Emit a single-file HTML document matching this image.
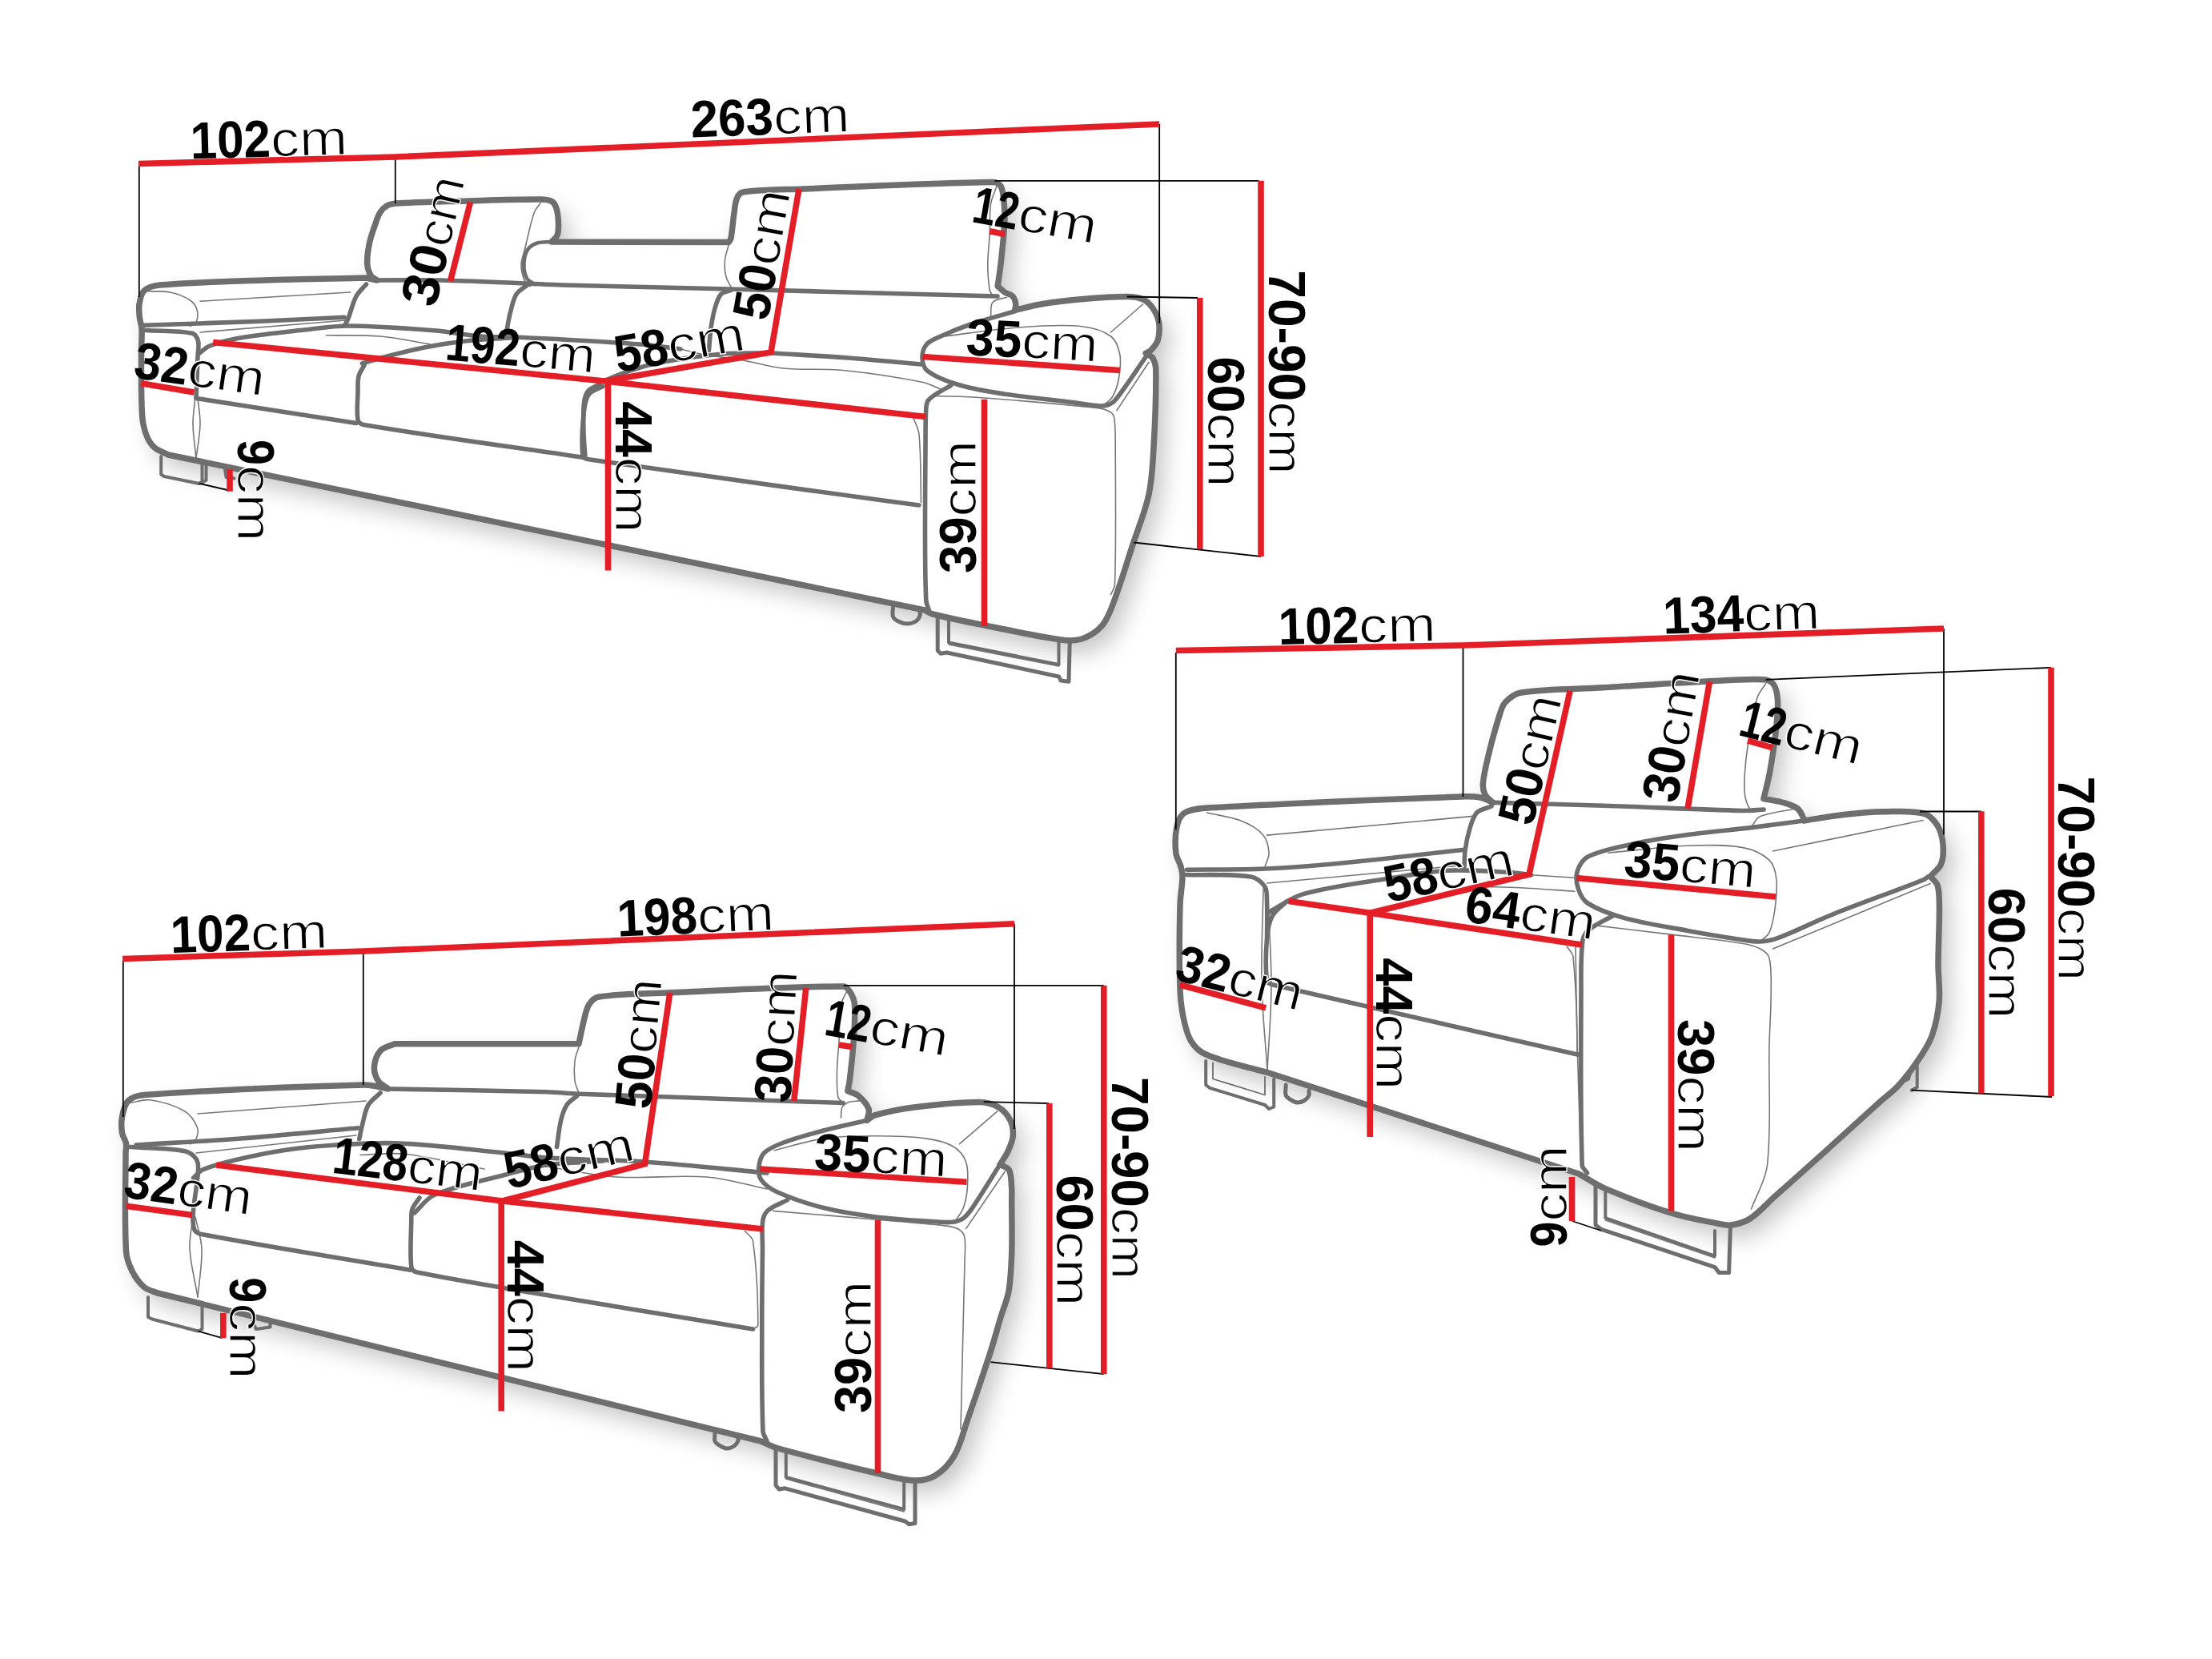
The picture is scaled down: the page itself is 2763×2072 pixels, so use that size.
<!DOCTYPE html><html><head><meta charset="utf-8"><style>html,body{margin:0;padding:0;background:#fff;width:2763px;height:2072px;overflow:hidden}svg{display:block}</style></head><body><svg width="2763" height="2072" viewBox="0 0 2763 2072">
<defs><filter id="sh" x="-10%" y="-10%" width="130%" height="130%"><feGaussianBlur in="SourceAlpha" stdDeviation="15"/><feOffset dx="12" dy="15" result="b"/><feComponentTransfer><feFuncA type="linear" slope="0.24"/></feComponentTransfer><feMerge><feMergeNode/><feMergeNode in="SourceGraphic"/></feMerge></filter></defs>
<rect width="2763" height="2072" fill="#fff"/>
<g filter="url(#sh)" fill="#fff" stroke="none">
<path d="M457.5,347.0 C415.0,348.0 372.5,348.5 330.0,350.0 C286.6,351.5 243.0,352.3 200.0,356.0 C193.0,356.6 184.7,358.7 180.0,363.0 C176.0,366.7 174.9,374.2 174.0,380.0 C173.1,385.7 173.9,391.7 174.5,397.5 C174.9,401.7 176.8,405.8 177.0,410.0 C177.5,419.9 176.5,430.0 176.5,440.0 C176.6,465.8 176.0,491.8 177.5,517.5 C178.0,526.0 179.6,534.6 182.5,542.5 C184.6,548.3 188.0,554.4 192.5,558.5 C197.2,562.9 204.2,564.8 210.0,568.0 L1155.0,762.0 C1158.3,763.7 1161.4,766.1 1165.0,767.0 C1186.4,772.4 1208.3,776.7 1230.0,781.0 C1261.6,787.3 1293.2,794.5 1325.0,799.0 C1333.6,800.2 1343.1,800.6 1351.0,798.0 C1360.1,795.0 1369.6,789.1 1376.0,782.0 C1382.6,774.7 1386.4,764.4 1390.0,755.0 C1399.4,730.4 1406.8,705.0 1415.0,680.0 C1421.8,659.2 1430.5,638.8 1435.0,617.5 C1439.3,597.1 1440.1,575.9 1441.2,555.0 C1443.0,524.2 1444.1,493.2 1443.8,462.5 C1443.7,457.4 1442.5,451.7 1440.0,447.5 C1438.3,444.6 1434.2,443.3 1431.2,441.2 C1433.3,440.0 1435.9,439.3 1437.5,437.5 C1440.9,433.8 1444.9,429.7 1446.2,425.0 C1448.2,418.0 1448.6,409.7 1447.5,402.5 C1446.5,396.4 1443.5,390.1 1440.0,385.0 C1436.9,380.5 1432.4,375.9 1427.5,373.8 C1421.6,371.1 1414.2,370.5 1407.5,370.5 C1388.4,370.5 1369.1,372.1 1350.0,373.8 C1333.3,375.2 1316.5,377.2 1300.0,380.0 C1289.0,381.8 1278.3,385.0 1267.5,387.5 C1267.9,385.0 1269.1,382.4 1268.8,380.0 C1268.3,376.6 1267.2,372.4 1265.0,370.0 C1262.7,367.4 1258.1,367.1 1255.0,365.0 C1251.8,362.9 1249.2,360.0 1246.2,357.5 C1247.5,348.3 1248.9,339.2 1250.0,330.0 C1251.4,317.5 1252.7,305.0 1253.8,292.5 C1254.4,285.0 1255.0,277.5 1255.0,270.0 C1255.0,263.3 1254.6,256.6 1253.8,250.0 C1253.0,244.1 1252.8,237.2 1250.0,232.5 C1248.3,229.7 1244.1,227.4 1240.5,227.5 C1161.7,228.6 1082.2,232.8 1003.0,236.0 C978.0,237.0 952.1,236.6 928.0,240.0 C924.6,240.5 921.8,244.4 920.5,247.5 C918.0,253.5 917.8,260.8 916.8,267.5 C915.3,277.5 914.8,287.7 913.0,297.5 C912.7,299.3 911.3,300.8 910.5,302.5 L689.0,302.0 C691.3,299.3 694.8,297.2 696.0,294.0 C697.6,289.8 697.6,284.7 697.5,280.0 C697.4,274.0 697.0,267.7 695.5,262.0 C694.5,258.4 692.9,253.9 690.0,252.0 C686.1,249.5 680.1,249.0 675.0,249.0 C641.8,248.8 608.3,250.3 575.0,251.2 C550.0,251.9 524.9,252.4 500.0,253.8 C494.9,254.0 489.4,254.2 485.0,256.2 C481.1,258.0 477.4,261.4 475.0,265.0 C472.0,269.4 470.5,274.9 468.8,280.0 C465.9,288.2 462.9,296.5 461.2,305.0 C459.6,313.2 458.2,321.8 458.8,330.0 C459.1,335.1 461.1,340.7 463.8,345.0 C465.2,347.4 468.6,348.3 471.0,350.0 L457.5,347.0 Z"/>
<path d="M485.0,1360.0 C475.0,1358.3 465.1,1354.8 455.0,1355.0 C363.4,1357.3 271.3,1361.3 180.0,1367.5 C172.9,1368.0 164.6,1370.4 160.0,1375.0 C155.4,1379.6 153.8,1388.1 152.5,1395.0 C151.3,1401.4 151.5,1408.5 152.5,1415.0 C153.2,1419.5 156.7,1423.5 157.5,1428.0 C158.2,1431.9 157.0,1436.0 157.0,1440.0 C157.0,1480.8 155.3,1522.0 157.5,1562.5 C158.0,1571.1 161.2,1579.8 165.0,1587.5 C168.7,1594.8 173.9,1602.2 180.0,1607.5 C184.5,1611.4 191.3,1612.5 197.0,1615.0 L950.5,1800.0 C957.2,1802.8 963.5,1806.6 970.5,1808.5 C1011.0,1819.7 1052.0,1829.7 1093.0,1839.5 C1108.5,1843.2 1124.3,1848.3 1140.0,1849.0 C1149.3,1849.4 1160.2,1847.7 1168.0,1843.0 C1177.5,1837.3 1186.3,1827.8 1192.0,1818.0 C1199.9,1804.5 1203.3,1788.1 1208.6,1773.0 C1218.5,1744.6 1228.2,1716.1 1237.5,1687.5 C1242.0,1673.5 1245.8,1659.1 1250.0,1645.0 C1253.3,1634.1 1258.1,1623.6 1260.0,1612.5 C1262.7,1596.1 1263.2,1579.2 1263.8,1562.5 C1264.4,1541.7 1263.7,1520.8 1263.7,1500.0 C1263.7,1494.7 1264.1,1489.3 1263.7,1484.0 C1263.0,1476.3 1263.5,1467.4 1260.4,1461.1 C1258.6,1457.6 1252.8,1456.8 1249.0,1454.6 C1252.3,1449.2 1256.2,1444.1 1258.8,1438.4 C1261.6,1432.2 1264.8,1425.5 1265.3,1418.8 C1265.8,1412.4 1264.8,1405.0 1262.0,1399.3 C1258.9,1393.0 1253.4,1386.5 1247.4,1383.0 C1240.4,1378.9 1231.3,1376.5 1223.0,1376.5 C1196.1,1376.5 1168.6,1379.6 1141.6,1383.0 C1125.2,1385.1 1108.6,1388.4 1092.8,1392.8 C1089.1,1393.8 1086.3,1397.1 1083.0,1399.3 C1083.7,1394.5 1086.4,1389.2 1085.0,1385.0 C1082.9,1379.0 1077.5,1373.1 1072.5,1368.8 C1068.8,1365.6 1063.3,1364.6 1058.8,1362.5 C1059.6,1358.3 1060.7,1354.2 1061.2,1350.0 C1063.2,1333.4 1065.2,1316.7 1066.2,1300.0 C1067.2,1285.0 1068.4,1269.8 1067.5,1255.0 C1067.2,1249.8 1065.1,1244.4 1062.5,1240.0 C1060.5,1236.7 1057.6,1232.0 1053.8,1232.0 C981.1,1232.0 906.6,1236.9 833.0,1240.0 C804.6,1241.2 775.4,1240.8 748.0,1245.0 C742.9,1245.8 738.2,1250.7 735.5,1255.0 C732.0,1260.7 731.0,1268.2 729.2,1275.0 C726.8,1284.5 725.1,1294.2 723.0,1303.8 L492.5,1303.8 C486.7,1306.7 479.0,1307.9 475.0,1312.5 C470.7,1317.5 467.9,1325.8 467.5,1332.5 C467.1,1338.3 469.4,1345.1 472.5,1350.0 C475.2,1354.3 480.8,1356.7 485.0,1360.0 Z"/>
<path d="M1865.0,1002.5 C1860.0,1000.4 1855.2,997.2 1850.0,996.2 C1841.9,994.7 1833.3,994.7 1825.0,995.0 C1720.8,998.9 1616.5,1002.7 1512.5,1008.8 C1501.5,1009.4 1488.8,1010.1 1480.0,1015.0 C1474.6,1018.0 1471.4,1026.1 1470.0,1032.5 C1467.7,1042.8 1467.7,1054.4 1468.8,1065.0 C1469.4,1071.1 1473.4,1076.6 1475.0,1082.5 C1476.1,1086.6 1477.1,1090.8 1477.0,1095.0 C1476.8,1106.6 1474.3,1118.3 1474.0,1130.0 C1473.2,1163.3 1472.9,1196.7 1473.8,1230.0 C1474.1,1242.5 1475.1,1255.2 1477.5,1267.5 C1479.7,1278.6 1481.9,1290.6 1487.5,1300.0 C1491.9,1307.3 1499.4,1314.2 1507.5,1317.5 C1531.9,1327.5 1559.2,1332.5 1585.0,1340.0 L1972.0,1466.0 C1983.0,1472.1 1993.4,1479.5 2005.0,1484.4 C2031.9,1495.8 2059.6,1506.3 2087.5,1515.0 C2106.2,1520.8 2125.8,1524.1 2145.0,1528.0 C2150.6,1529.1 2156.5,1530.8 2162.0,1530.0 C2170.2,1528.8 2179.1,1526.5 2186.0,1522.0 C2197.0,1514.9 2205.9,1504.2 2215.8,1495.3 C2237.2,1476.2 2258.7,1457.2 2280.0,1438.0 C2301.7,1418.4 2323.3,1398.6 2345.0,1379.0 C2353.9,1370.9 2363.9,1363.9 2372.0,1355.0 C2381.9,1344.1 2390.8,1331.9 2399.0,1319.6 C2404.7,1311.0 2410.5,1301.9 2413.7,1292.2 C2418.2,1278.7 2421.0,1264.2 2422.2,1250.0 C2423.4,1235.1 2421.0,1220.0 2421.0,1205.0 C2421.0,1181.0 2422.6,1157.0 2422.4,1133.0 C2422.3,1123.9 2422.7,1114.2 2420.2,1105.9 C2418.9,1101.4 2414.1,1098.4 2411.1,1094.6 C2415.6,1089.3 2422.3,1085.0 2424.7,1078.8 C2427.6,1071.4 2427.7,1062.0 2426.9,1053.9 C2426.2,1046.2 2424.2,1037.7 2420.2,1031.3 C2416.3,1025.1 2410.1,1017.8 2403.0,1016.0 C2387.7,1012.0 2369.7,1013.5 2353.0,1013.8 C2336.3,1014.0 2319.6,1015.6 2303.0,1017.5 C2286.3,1019.4 2269.7,1022.5 2253.0,1025.0 C2253.0,1024.2 2253.4,1023.2 2253.0,1022.5 C2250.9,1018.2 2249.1,1012.9 2245.5,1010.0 C2240.8,1006.2 2234.1,1004.3 2228.0,1002.5 C2219.9,1000.1 2211.3,999.2 2203.0,997.5 C2205.5,986.7 2208.5,975.9 2210.5,965.0 C2213.5,948.4 2216.1,931.7 2218.0,915.0 C2219.5,901.7 2221.1,888.2 2220.5,875.0 C2220.2,868.2 2219.0,860.2 2215.5,855.0 C2213.1,851.5 2207.6,848.9 2203.0,848.8 C2178.4,847.7 2153.0,850.0 2128.0,851.2 C2086.2,853.3 2044.5,856.2 2002.8,858.8 C1968.5,860.8 1933.3,859.9 1900.0,865.0 C1892.4,866.2 1885.1,872.0 1880.0,877.5 C1875.9,882.0 1874.4,889.0 1872.5,895.0 C1867.8,909.8 1863.7,924.9 1860.0,940.0 C1857.0,952.4 1853.7,965.0 1852.5,977.5 C1852.0,982.5 1852.8,988.2 1855.0,992.5 C1857.0,996.5 1861.7,999.2 1865.0,1002.5 Z"/>
</g>
<g fill="none" stroke="#6e6e6e" stroke-linecap="round" stroke-linejoin="round">
<path d="M656.0,310.0 C654.3,316.7 651.2,323.3 651.0,330.0 C650.8,336.6 652.5,344.0 655.0,350.0 C656.1,352.7 659.7,354.0 662.0,356.0 " stroke-width="1.6" stroke="#777"/>
<path d="M675.0,253.8 C672.5,257.5 669.1,260.8 667.5,265.0 C664.1,273.8 662.1,283.2 660.0,292.5 C657.1,304.9 653.6,317.4 652.5,330.0 C651.9,336.6 652.8,344.0 655.0,350.0 C656.1,353.2 660.0,355.0 662.5,357.5 " stroke-width="1.6" stroke="#777"/>
<path d="M185.0,363.8 C194.2,364.2 203.7,363.1 212.5,365.0 C221.2,366.9 230.3,370.2 237.5,375.0 C241.6,377.7 245.0,382.9 246.2,387.5 C247.5,392.1 246.8,398.3 245.0,402.5 C243.9,405.0 240.0,405.8 237.5,407.5 " stroke-width="1.6" stroke="#777"/>
<path d="M250.0,376.2 L437.5,365.0 " stroke-width="1.6" stroke="#777"/>
<path d="M250.0,415.0 L432.5,400.0 " stroke-width="1.6" stroke="#777"/>
<path d="M407.5,418.8 C430.0,419.2 452.6,418.1 475.0,420.0 C496.0,421.8 516.7,426.7 537.5,430.0 " stroke-width="1.6" stroke="#777"/>
<path d="M910.5,305.0 C908.8,311.7 906.1,318.2 905.5,325.0 C904.9,331.6 905.2,338.6 906.8,345.0 C908.0,350.3 911.6,355.0 914.0,360.0 " stroke-width="1.6" stroke="#777"/>
<path d="M850.0,436.0 C860.0,438.3 869.9,441.2 880.0,443.0 C895.9,445.9 912.1,447.2 928.0,450.0 C944.7,452.9 961.1,458.3 978.0,460.0 C1002.8,462.5 1028.2,460.0 1053.0,462.5 C1086.5,465.8 1120.1,470.9 1153.0,477.5 C1161.8,479.3 1169.7,484.2 1178.0,487.5 " stroke-width="1.6" stroke="#777"/>
<path d="M1245.0,232.5 C1242.5,240.0 1238.6,247.3 1237.5,255.0 C1235.7,267.3 1236.9,280.0 1236.2,292.5 C1235.6,305.0 1233.8,317.5 1233.8,330.0 C1233.8,340.8 1234.5,351.9 1236.2,362.5 C1236.6,364.9 1238.8,366.7 1240.0,368.8 " stroke-width="1.6" stroke="#777"/>
<path d="M1237.5,395.0 C1238.3,389.2 1236.7,381.4 1240.0,377.5 C1243.4,373.4 1251.7,373.3 1257.5,371.2 " stroke-width="1.6" stroke="#777"/>
<path d="M1170.0,421.2 C1205.0,417.1 1239.9,411.4 1275.0,408.8 C1299.9,406.8 1325.4,405.0 1350.0,407.5 C1362.9,408.8 1377.6,412.9 1387.5,420.0 C1393.8,424.5 1397.2,434.5 1398.8,442.5 C1400.6,452.0 1399.1,462.7 1397.5,472.5 C1396.2,480.2 1393.7,488.2 1390.0,495.0 C1387.8,499.0 1383.3,501.7 1380.0,505.0 " stroke-width="1.6" stroke="#777"/>
<path d="M1387.5,415.0 L1427.5,380.0 " stroke-width="1.6" stroke="#777"/>
<path d="M1395.0,512.5 L1435.0,452.5 " stroke-width="1.6" stroke="#777"/>
<path d="M1166.0,494.5 C1186.3,495.2 1206.6,495.2 1226.8,496.7 C1275.1,500.3 1323.4,504.5 1371.5,509.7 C1376.5,510.2 1381.8,511.6 1386.0,514.0 C1388.6,515.5 1391.2,518.3 1391.7,521.3 C1393.6,533.7 1393.2,547.1 1393.2,560.0 C1393.4,616.7 1394.3,673.6 1392.5,730.0 C1392.4,734.5 1389.2,738.3 1387.5,742.5 " stroke-width="1.6" stroke="#777"/>
<path d="M1140.5,521.0 C1143.0,528.2 1147.3,535.0 1148.0,542.5 C1150.6,570.5 1149.7,599.2 1150.5,627.5 " stroke-width="1.6" stroke="#777"/>
<path d="M243.8,497.0 C242.8,508.0 240.8,519.0 241.0,530.0 C241.2,544.2 243.7,558.3 245.0,572.5 " stroke-width="1.6" stroke="#777"/>
<path d="M247.0,497.0 C248.0,508.0 250.3,519.0 250.0,530.0 C249.6,544.2 246.7,558.3 245.0,572.5 " stroke-width="1.6" stroke="#777"/>
<path d="M1185.0,805.0 L1322.5,832.0 " stroke-width="1.6" stroke="#777"/>
<path d="M162.5,1377.5 C170.8,1376.2 179.4,1372.5 187.5,1373.8 C201.9,1375.9 217.6,1380.4 230.0,1387.5 C237.2,1391.6 243.1,1400.1 246.2,1407.5 C248.1,1411.8 246.8,1418.2 245.0,1422.5 C243.9,1425.3 240.0,1426.7 237.5,1428.8 " stroke-width="1.6" stroke="#777"/>
<path d="M247.0,1391.0 L457.0,1375.0 " stroke-width="1.6" stroke="#777"/>
<path d="M245.0,1440.0 L445.0,1418.0 " stroke-width="1.6" stroke="#777"/>
<path d="M450.0,1442.5 C468.3,1442.1 486.9,1439.2 505.0,1441.2 C538.5,1445.0 571.7,1453.8 605.0,1460.0 " stroke-width="1.6" stroke="#777"/>
<path d="M1058.0,1237.5 C1055.5,1243.3 1051.5,1248.8 1050.5,1255.0 C1048.2,1269.6 1048.9,1285.0 1048.0,1300.0 C1047.2,1312.5 1045.7,1325.0 1045.5,1337.5 C1045.3,1348.3 1044.8,1359.7 1046.8,1370.0 C1047.3,1373.1 1050.9,1375.0 1053.0,1377.5 " stroke-width="1.6" stroke="#777"/>
<path d="M723.0,1307.5 C721.3,1313.3 718.7,1319.0 718.0,1325.0 C717.0,1333.2 717.0,1341.8 718.0,1350.0 C718.6,1355.2 721.3,1360.0 723.0,1365.0 " stroke-width="1.6" stroke="#777"/>
<path d="M1050.4,1396.0 C1050.9,1391.7 1050.2,1386.6 1052.0,1383.0 C1053.5,1380.1 1057.1,1377.7 1060.2,1376.5 C1064.1,1375.0 1068.9,1375.4 1073.2,1374.9 " stroke-width="1.6" stroke="#777"/>
<path d="M683.0,1457.0 C712.2,1461.3 741.2,1468.1 770.5,1470.0 C807.8,1472.4 845.8,1467.0 883.0,1470.0 C908.3,1472.0 933.0,1480.0 958.0,1485.0 " stroke-width="1.6" stroke="#777"/>
<path d="M930.5,1537.5 C933.8,1541.7 939.8,1544.8 940.5,1550.0 C945.2,1584.0 946.8,1620.9 946.8,1655.0 C946.8,1657.6 942.6,1658.3 940.5,1660.0 " stroke-width="1.6" stroke="#777"/>
<path d="M967.4,1436.7 C987.5,1431.8 1007.3,1425.0 1027.7,1422.1 C1049.1,1419.0 1071.1,1418.8 1092.8,1418.8 C1114.5,1418.8 1136.5,1419.2 1157.9,1422.1 C1169.0,1423.6 1181.1,1426.2 1190.4,1431.8 C1197.4,1436.0 1204.1,1443.8 1206.7,1451.4 C1210.0,1461.1 1208.9,1473.2 1208.3,1483.9 C1207.8,1492.1 1206.2,1500.6 1203.4,1508.3 C1201.3,1514.2 1196.9,1519.2 1193.7,1524.6 " stroke-width="1.6" stroke="#777"/>
<path d="M1198.6,1428.6 L1245.8,1387.9 " stroke-width="1.6" stroke="#777"/>
<path d="M1206.7,1534.4 L1255.5,1462.8 " stroke-width="1.6" stroke="#777"/>
<path d="M965.8,1512.4 C1008.1,1515.9 1050.5,1519.3 1092.8,1523.0 C1122.6,1525.6 1152.6,1527.5 1182.3,1531.1 C1187.9,1531.8 1194.1,1533.1 1198.6,1536.0 C1201.7,1538.0 1204.4,1542.1 1205.0,1545.8 C1206.5,1555.1 1205.2,1565.3 1205.0,1575.0 C1203.5,1645.0 1201.7,1715.0 1200.0,1785.0 " stroke-width="1.6" stroke="#777"/>
<path d="M241.0,1520.0 C239.7,1533.3 236.2,1546.7 237.0,1560.0 C238.2,1580.1 243.7,1600.0 247.0,1620.0 " stroke-width="1.6" stroke="#777"/>
<path d="M244.0,1520.0 C246.7,1533.3 251.6,1546.5 252.0,1560.0 C252.6,1579.9 248.7,1600.0 247.0,1620.0 " stroke-width="1.6" stroke="#777"/>
<path d="M981.8,1847.0 L1129.2,1888.0 " stroke-width="1.6" stroke="#777"/>
<path d="M2205.5,853.8 C2202.2,859.2 2197.6,864.1 2195.5,870.0 C2191.8,880.3 2190.0,891.6 2188.0,902.5 C2185.0,919.1 2182.2,935.8 2180.5,952.5 C2179.3,964.9 2178.2,977.7 2179.2,990.0 C2179.8,996.9 2182.2,1004.6 2185.5,1010.0 C2186.8,1012.1 2190.5,1011.7 2193.0,1012.5 " stroke-width="1.6" stroke="#777"/>
<path d="M2188.0,1032.5 C2191.3,1028.3 2193.3,1021.9 2198.0,1020.0 C2211.6,1014.4 2228.0,1013.3 2243.0,1010.0 " stroke-width="1.6" stroke="#777"/>
<path d="M1507.5,1015.0 C1521.7,1018.3 1536.6,1019.8 1550.0,1025.0 C1560.0,1028.9 1570.7,1034.8 1577.5,1042.5 C1582.4,1048.1 1584.5,1057.5 1585.0,1065.0 C1585.4,1070.8 1581.7,1076.7 1580.0,1082.5 " stroke-width="1.6" stroke="#777"/>
<path d="M1582.6,1043.1 L1840.3,1019.4 " stroke-width="1.6" stroke="#777"/>
<path d="M1582.6,1103.0 L1831.3,1080.4 " stroke-width="1.6" stroke="#777"/>
<path d="M1912.6,1092.8 L1966.9,1096.2 " stroke-width="1.6" stroke="#777"/>
<path d="M1853.9,1107.5 C1868.9,1107.9 1884.0,1107.9 1899.0,1108.7 C1921.6,1109.8 1944.3,1111.7 1966.9,1113.2 " stroke-width="1.6" stroke="#777"/>
<path d="M1957.5,1182.5 C1960.0,1186.7 1964.5,1190.2 1965.0,1195.0 C1968.7,1234.4 1970.0,1276.0 1970.0,1315.0 C1970.0,1316.8 1966.7,1316.7 1965.0,1317.5 " stroke-width="1.6" stroke="#777"/>
<path d="M1578.0,1110.0 C1577.3,1150.0 1575.1,1190.0 1576.0,1230.0 C1576.8,1265.7 1580.7,1301.3 1583.0,1337.0 " stroke-width="1.6" stroke="#777"/>
<path d="M1583.0,1110.0 C1584.7,1150.0 1588.0,1190.0 1588.0,1230.0 C1588.0,1265.7 1584.7,1301.3 1583.0,1337.0 " stroke-width="1.6" stroke="#777"/>
<path d="M2008.8,1065.2 C2041.9,1062.2 2075.0,1057.5 2108.2,1056.2 C2130.8,1055.3 2154.1,1054.5 2176.0,1058.4 C2188.0,1060.5 2201.5,1066.3 2209.9,1074.2 C2215.8,1079.8 2218.1,1090.5 2219.0,1099.1 C2220.3,1111.6 2218.4,1124.8 2216.7,1137.5 C2215.4,1146.7 2213.8,1156.5 2210.0,1164.7 C2207.8,1169.4 2202.4,1172.2 2198.6,1176.0 " stroke-width="1.6" stroke="#777"/>
<path d="M2214.5,1063.0 L2402.1,1024.5 " stroke-width="1.6" stroke="#777"/>
<path d="M2214.5,1185.0 L2411.1,1103.6 " stroke-width="1.6" stroke="#777"/>
<path d="M1990.7,1155.6 C2022.3,1159.4 2054.0,1163.0 2085.6,1166.9 C2115.7,1170.6 2146.1,1173.4 2176.0,1178.2 C2183.8,1179.4 2191.9,1181.4 2198.6,1185.0 C2203.2,1187.4 2208.7,1191.4 2209.9,1196.3 C2213.2,1209.7 2212.2,1225.4 2212.2,1240.0 C2212.2,1261.7 2210.5,1283.3 2210.0,1305.0 C2208.9,1355.0 2212.9,1405.8 2207.5,1455.0 C2205.4,1474.2 2194.2,1491.7 2187.5,1510.0 " stroke-width="1.6" stroke="#777"/>
<path d="M1968.0,1180.0 C1968.7,1220.0 1969.0,1260.0 1970.0,1300.0 C1971.3,1352.7 1973.3,1405.3 1975.0,1458.0 " stroke-width="1.6" stroke="#777"/>
<path d="M2005.3,1524.0 L2142.0,1571.0 " stroke-width="1.6" stroke="#777"/>
<path d="M457.5,347.0 C415.0,348.0 372.5,348.5 330.0,350.0 C286.6,351.5 243.0,352.3 200.0,356.0 C193.0,356.6 184.7,358.7 180.0,363.0 C176.0,366.7 174.9,374.2 174.0,380.0 C173.1,385.7 173.9,391.7 174.5,397.5 C174.9,401.7 176.8,405.8 177.0,410.0 C177.5,419.9 176.5,430.0 176.5,440.0 C176.6,465.8 176.0,491.8 177.5,517.5 C178.0,526.0 179.6,534.6 182.5,542.5 C184.6,548.3 188.0,554.4 192.5,558.5 C197.2,562.9 204.2,564.8 210.0,568.0 L1155.0,762.0 C1158.3,763.7 1161.4,766.1 1165.0,767.0 C1186.4,772.4 1208.3,776.7 1230.0,781.0 C1261.6,787.3 1293.2,794.5 1325.0,799.0 C1333.6,800.2 1343.1,800.6 1351.0,798.0 C1360.1,795.0 1369.6,789.1 1376.0,782.0 C1382.6,774.7 1386.4,764.4 1390.0,755.0 C1399.4,730.4 1406.8,705.0 1415.0,680.0 C1421.8,659.2 1430.5,638.8 1435.0,617.5 C1439.3,597.1 1440.1,575.9 1441.2,555.0 C1443.0,524.2 1444.1,493.2 1443.8,462.5 C1443.7,457.4 1442.5,451.7 1440.0,447.5 C1438.3,444.6 1434.2,443.3 1431.2,441.2 C1433.3,440.0 1435.9,439.3 1437.5,437.5 C1440.9,433.8 1444.9,429.7 1446.2,425.0 C1448.2,418.0 1448.6,409.7 1447.5,402.5 C1446.5,396.4 1443.5,390.1 1440.0,385.0 C1436.9,380.5 1432.4,375.9 1427.5,373.8 C1421.6,371.1 1414.2,370.5 1407.5,370.5 C1388.4,370.5 1369.1,372.1 1350.0,373.8 C1333.3,375.2 1316.5,377.2 1300.0,380.0 C1289.0,381.8 1278.3,385.0 1267.5,387.5 C1267.9,385.0 1269.1,382.4 1268.8,380.0 C1268.3,376.6 1267.2,372.4 1265.0,370.0 C1262.7,367.4 1258.1,367.1 1255.0,365.0 C1251.8,362.9 1249.2,360.0 1246.2,357.5 C1247.5,348.3 1248.9,339.2 1250.0,330.0 C1251.4,317.5 1252.7,305.0 1253.8,292.5 C1254.4,285.0 1255.0,277.5 1255.0,270.0 C1255.0,263.3 1254.6,256.6 1253.8,250.0 C1253.0,244.1 1252.8,237.2 1250.0,232.5 C1248.3,229.7 1244.1,227.4 1240.5,227.5 C1161.7,228.6 1082.2,232.8 1003.0,236.0 C978.0,237.0 952.1,236.6 928.0,240.0 C924.6,240.5 921.8,244.4 920.5,247.5 C918.0,253.5 917.8,260.8 916.8,267.5 C915.3,277.5 914.8,287.7 913.0,297.5 C912.7,299.3 911.3,300.8 910.5,302.5 L689.0,302.0 C691.3,299.3 694.8,297.2 696.0,294.0 C697.6,289.8 697.6,284.7 697.5,280.0 C697.4,274.0 697.0,267.7 695.5,262.0 C694.5,258.4 692.9,253.9 690.0,252.0 C686.1,249.5 680.1,249.0 675.0,249.0 C641.8,248.8 608.3,250.3 575.0,251.2 C550.0,251.9 524.9,252.4 500.0,253.8 C494.9,254.0 489.4,254.2 485.0,256.2 C481.1,258.0 477.4,261.4 475.0,265.0 C472.0,269.4 470.5,274.9 468.8,280.0 C465.9,288.2 462.9,296.5 461.2,305.0 C459.6,313.2 458.2,321.8 458.8,330.0 C459.1,335.1 461.1,340.7 463.8,345.0 C465.2,347.4 468.6,348.3 471.0,350.0 L457.5,347.0 Z" stroke-width="7.5"/>
<path d="M471.0,350.0 C497.3,350.0 523.7,349.4 550.0,350.0 C583.3,350.7 616.7,352.4 650.0,353.8 C667.6,354.4 685.2,355.5 702.8,356.0 C772.0,357.9 841.3,359.2 910.5,361.0 C990.3,363.1 1070.2,365.4 1150.0,367.5 C1182.0,368.4 1214.0,369.2 1246.0,370.0 " stroke-width="5.6"/>
<path d="M180.0,406.2 C228.3,404.6 276.7,403.2 325.0,401.2 C360.0,399.8 395.0,397.9 430.0,396.2 " stroke-width="5.6"/>
<path d="M457.5,355.0 C453.3,360.0 448.0,364.3 445.0,370.0 C440.5,378.5 438.5,388.4 435.0,397.5 C433.9,400.4 432.3,403.2 431.0,406.0 " stroke-width="5.6"/>
<path d="M660.0,355.0 C655.0,359.2 648.4,362.2 645.0,367.5 C640.9,373.9 639.5,382.4 637.5,390.0 C635.1,399.2 633.8,408.7 632.0,418.0 " stroke-width="5.6"/>
<path d="M913.0,362.5 C908.8,364.2 903.3,364.4 900.5,367.5 C896.6,371.9 894.8,378.9 893.0,385.0 C890.6,393.1 889.2,401.6 888.0,410.0 C886.7,419.1 886.3,428.3 885.5,437.5 " stroke-width="5.6"/>
<path d="M689.0,302.0 C683.0,302.5 676.5,301.7 671.0,303.5 C666.5,305.0 661.4,308.1 659.0,312.0 C655.9,316.9 654.7,324.0 654.5,330.0 C654.3,335.8 655.4,342.5 658.0,347.5 C659.8,350.9 664.3,352.5 667.5,355.0 " stroke-width="4.5"/>
<path d="M247.5,442.5 C252.3,439.0 256.5,434.1 262.0,432.0 C274.0,427.3 287.1,424.2 300.0,422.0 C326.4,417.5 353.3,414.9 380.0,412.0 C398.6,409.9 417.3,406.9 436.0,407.0 C472.3,407.2 508.7,410.1 545.0,413.0 C563.1,414.4 580.9,418.5 599.0,420.0 C613.9,421.2 629.0,420.3 644.0,421.0 C696.0,423.6 748.1,426.2 800.0,430.0 C816.7,431.2 833.3,434.0 850.0,436.0 " stroke-width="5.6"/>
<path d="M963.0,441.0 C995.3,443.0 1027.7,444.6 1060.0,447.0 C1090.2,449.3 1120.3,452.3 1150.5,455.0 " stroke-width="5.6"/>
<path d="M452.4,454.0 C460.3,451.7 468.1,449.0 476.0,447.0 C493.9,442.4 511.9,437.6 530.0,434.0 C546.9,430.6 563.9,427.9 581.0,426.0 C600.7,423.8 620.7,423.1 640.5,421.6 " stroke-width="5.6"/>
<path d="M753.0,476.0 C765.3,471.3 777.5,466.0 790.0,462.0 C802.5,458.0 815.1,454.3 828.0,452.0 C852.8,447.6 877.9,444.0 903.0,442.0 C922.9,440.4 943.0,441.3 963.0,441.0 " stroke-width="5.6"/>
<path d="M182.5,412.5 C201.7,413.8 222.1,412.5 240.0,416.2 C243.8,417.0 246.6,422.2 247.5,426.0 C248.9,431.8 247.2,438.7 247.0,445.0 C246.4,462.3 245.7,479.7 245.0,497.0 " stroke-width="5.6"/>
<path d="M245.0,497.5 L445.0,528.5 " stroke-width="5.6"/>
<path d="M455.0,456.0 C452.7,460.7 449.2,465.0 448.0,470.0 C446.5,476.4 447.1,483.3 447.0,490.0 C446.8,501.5 445.2,513.8 447.0,524.5 C447.5,527.3 451.0,530.0 454.0,530.5 C545.6,545.7 638.7,558.0 731.0,571.7 C730.3,561.1 729.3,550.6 729.0,540.0 C728.7,530.0 728.5,520.0 729.0,510.0 C729.2,505.2 729.6,500.2 731.0,495.7 C732.0,492.4 733.8,488.9 736.3,486.7 C739.8,483.7 744.8,482.2 749.0,480.0 " stroke-width="5.6"/>
<path d="M753.0,482.5 C747.2,485.8 739.0,487.4 735.5,492.5 C731.0,499.1 729.8,509.0 729.0,517.5 C727.3,534.8 726.1,553.8 728.0,570.0 C728.3,572.6 732.7,573.3 735.5,573.8 C857.7,591.7 980.5,608.0 1103.0,625.0 C1118.0,627.1 1133.0,629.0 1148.0,631.0 " stroke-width="5.6"/>
<path d="M1187.7,481.5 C1181.5,485.1 1174.9,488.3 1169.0,492.3 C1165.3,494.8 1160.9,497.4 1158.8,501.0 C1156.8,504.6 1156.8,509.6 1156.6,514.0 C1155.9,529.3 1156.1,544.7 1156.0,560.0 C1155.8,591.7 1155.4,623.3 1155.5,655.0 C1155.6,686.7 1155.3,718.5 1156.8,750.0 C1157.0,754.3 1159.2,758.3 1160.5,762.5 " stroke-width="5.6"/>
<path d="M1267.5,388.8 C1249.2,394.2 1230.6,398.9 1212.5,405.0 C1199.8,409.3 1187.2,414.4 1175.0,420.0 C1168.9,422.8 1161.6,425.2 1157.5,430.0 C1153.9,434.2 1151.8,441.4 1152.0,447.0 C1152.2,452.5 1154.3,460.1 1158.8,463.4 C1169.6,471.4 1184.3,476.7 1197.9,480.8 C1216.6,486.4 1236.3,489.3 1255.7,492.3 C1279.7,496.0 1303.9,498.0 1328.0,501.0 C1342.5,502.8 1357.0,505.5 1371.5,506.8 C1375.3,507.1 1379.5,507.2 1383.0,506.0 C1386.7,504.8 1390.7,502.7 1393.2,499.6 C1406.7,482.7 1418.4,463.9 1431.0,446.0 " stroke-width="5.6"/>
<path d="M1115.5,757.5 C1115.5,761.7 1114.2,766.4 1115.5,770.0 C1116.4,772.6 1119.5,774.7 1122.0,776.0 C1125.3,777.7 1129.3,779.0 1133.0,779.0 C1136.7,779.0 1141.0,777.9 1144.0,776.0 C1146.3,774.6 1148.1,771.6 1149.0,769.0 C1149.7,767.1 1149.0,764.7 1149.0,762.5 " stroke-width="5.0"/>
<path d="M1171.2,770.0 L1171.2,812.5 L1175.0,816.2 L1182.5,815.0 L1322.5,845.0 L1325.0,850.0 L1335.0,851.2 L1336.2,802.5 " stroke-width="5.0"/>
<path d="M1185.0,772.5 L1185.0,802.5 L1322.5,830.0 L1322.5,800.0 " stroke-width="4.0"/>
<path d="M201.2,570.0 L201.2,592.5 L205.0,595.0 L247.5,603.8 L252.5,602.5 L252.5,575.0 " stroke-width="4.0"/>
<path d="M257.5,578.0 L257.5,600.0 L248.8,603.8 " stroke-width="4.0"/>
<path d="M281.0,586.0 L282.5,596.0 L292.5,597.5 " stroke-width="4.0"/>
<path d="M485.0,1360.0 C475.0,1358.3 465.1,1354.8 455.0,1355.0 C363.4,1357.3 271.3,1361.3 180.0,1367.5 C172.9,1368.0 164.6,1370.4 160.0,1375.0 C155.4,1379.6 153.8,1388.1 152.5,1395.0 C151.3,1401.4 151.5,1408.5 152.5,1415.0 C153.2,1419.5 156.7,1423.5 157.5,1428.0 C158.2,1431.9 157.0,1436.0 157.0,1440.0 C157.0,1480.8 155.3,1522.0 157.5,1562.5 C158.0,1571.1 161.2,1579.8 165.0,1587.5 C168.7,1594.8 173.9,1602.2 180.0,1607.5 C184.5,1611.4 191.3,1612.5 197.0,1615.0 L950.5,1800.0 C957.2,1802.8 963.5,1806.6 970.5,1808.5 C1011.0,1819.7 1052.0,1829.7 1093.0,1839.5 C1108.5,1843.2 1124.3,1848.3 1140.0,1849.0 C1149.3,1849.4 1160.2,1847.7 1168.0,1843.0 C1177.5,1837.3 1186.3,1827.8 1192.0,1818.0 C1199.9,1804.5 1203.3,1788.1 1208.6,1773.0 C1218.5,1744.6 1228.2,1716.1 1237.5,1687.5 C1242.0,1673.5 1245.8,1659.1 1250.0,1645.0 C1253.3,1634.1 1258.1,1623.6 1260.0,1612.5 C1262.7,1596.1 1263.2,1579.2 1263.8,1562.5 C1264.4,1541.7 1263.7,1520.8 1263.7,1500.0 C1263.7,1494.7 1264.1,1489.3 1263.7,1484.0 C1263.0,1476.3 1263.5,1467.4 1260.4,1461.1 C1258.6,1457.6 1252.8,1456.8 1249.0,1454.6 C1252.3,1449.2 1256.2,1444.1 1258.8,1438.4 C1261.6,1432.2 1264.8,1425.5 1265.3,1418.8 C1265.8,1412.4 1264.8,1405.0 1262.0,1399.3 C1258.9,1393.0 1253.4,1386.5 1247.4,1383.0 C1240.4,1378.9 1231.3,1376.5 1223.0,1376.5 C1196.1,1376.5 1168.6,1379.6 1141.6,1383.0 C1125.2,1385.1 1108.6,1388.4 1092.8,1392.8 C1089.1,1393.8 1086.3,1397.1 1083.0,1399.3 C1083.7,1394.5 1086.4,1389.2 1085.0,1385.0 C1082.9,1379.0 1077.5,1373.1 1072.5,1368.8 C1068.8,1365.6 1063.3,1364.6 1058.8,1362.5 C1059.6,1358.3 1060.7,1354.2 1061.2,1350.0 C1063.2,1333.4 1065.2,1316.7 1066.2,1300.0 C1067.2,1285.0 1068.4,1269.8 1067.5,1255.0 C1067.2,1249.8 1065.1,1244.4 1062.5,1240.0 C1060.5,1236.7 1057.6,1232.0 1053.8,1232.0 C981.1,1232.0 906.6,1236.9 833.0,1240.0 C804.6,1241.2 775.4,1240.8 748.0,1245.0 C742.9,1245.8 738.2,1250.7 735.5,1255.0 C732.0,1260.7 731.0,1268.2 729.2,1275.0 C726.8,1284.5 725.1,1294.2 723.0,1303.8 L492.5,1303.8 C486.7,1306.7 479.0,1307.9 475.0,1312.5 C470.7,1317.5 467.9,1325.8 467.5,1332.5 C467.1,1338.3 469.4,1345.1 472.5,1350.0 C475.2,1354.3 480.8,1356.7 485.0,1360.0 Z" stroke-width="7.5"/>
<path d="M485.0,1360.0 C550.9,1361.2 616.9,1362.0 682.8,1363.8 C696.2,1364.1 709.6,1365.8 723.0,1366.2 C833.0,1370.3 943.0,1373.8 1053.0,1377.5 " stroke-width="5.6"/>
<path d="M475.0,1365.0 C470.0,1370.0 463.4,1374.0 460.0,1380.0 C455.9,1387.4 454.7,1396.6 452.5,1405.0 C451.0,1410.8 450.0,1416.7 448.8,1422.5 " stroke-width="5.6"/>
<path d="M720.5,1368.8 C716.3,1372.5 710.9,1375.4 708.0,1380.0 C704.3,1385.8 702.1,1393.1 700.5,1400.0 C698.0,1410.6 697.2,1421.7 695.5,1432.5 " stroke-width="5.6"/>
<path d="M241.7,1471.2 C245.5,1467.8 248.4,1463.0 253.0,1461.0 C265.9,1455.5 280.1,1452.0 294.0,1448.7 C314.3,1443.8 334.9,1439.5 355.5,1436.4 C375.9,1433.3 396.4,1431.4 417.0,1430.2 C444.6,1428.6 472.4,1426.7 500.0,1428.0 C543.4,1430.0 586.7,1435.7 630.0,1440.0 C647.7,1441.7 665.3,1444.9 683.0,1446.0 C724.6,1448.6 766.4,1448.4 808.0,1451.2 C858.1,1454.7 908.0,1460.4 958.0,1465.0 " stroke-width="5.6"/>
<path d="M170.0,1430.0 C213.3,1427.3 256.7,1425.3 300.0,1422.0 C349.2,1418.2 398.3,1413.2 447.5,1408.8 " stroke-width="5.6"/>
<path d="M162.5,1432.5 C185.0,1434.2 208.3,1433.6 230.0,1437.5 C235.8,1438.6 241.8,1443.0 245.0,1447.5 C247.7,1451.3 247.8,1457.5 247.5,1462.5 C246.5,1480.0 242.5,1497.5 241.2,1515.0 C240.8,1521.6 240.5,1529.1 242.5,1535.0 C243.5,1537.9 246.8,1540.6 250.0,1541.2 C336.8,1557.7 425.0,1571.2 512.5,1586.2 " stroke-width="5.6"/>
<path d="M517.5,1515.0 C525.8,1507.5 532.4,1496.8 542.5,1492.5 C569.9,1480.9 600.7,1475.3 630.0,1467.5 C647.5,1462.8 665.1,1457.5 683.0,1455.0 C706.1,1451.7 729.7,1451.7 753.0,1450.0 " stroke-width="5.6"/>
<path d="M524.0,1496.0 C521.0,1500.7 516.8,1504.9 515.0,1510.0 C513.4,1514.6 513.8,1520.0 513.8,1525.0 C513.4,1544.2 511.9,1564.1 513.8,1582.5 C514.0,1585.3 517.1,1588.2 520.0,1588.8 C573.5,1599.8 628.4,1608.3 682.8,1617.5 C768.6,1632.0 854.6,1645.8 940.5,1660.0 " stroke-width="5.6"/>
<path d="M983.7,1498.6 C975.6,1502.9 966.1,1505.9 959.3,1511.6 C955.8,1514.6 953.5,1519.9 952.8,1524.6 C951.2,1536.0 952.6,1548.2 952.5,1560.0 C952.2,1590.0 951.7,1620.0 951.8,1650.0 C951.9,1695.8 951.1,1742.0 953.0,1787.5 C953.2,1792.0 956.3,1795.8 958.0,1800.0 " stroke-width="5.6"/>
<path d="M1083.0,1399.3 C1064.6,1403.6 1046.0,1407.4 1027.7,1412.3 C1011.3,1416.7 994.7,1421.0 978.8,1427.0 C970.2,1430.2 960.5,1433.9 954.4,1440.0 C950.2,1444.2 948.5,1451.8 947.9,1457.9 C947.4,1463.2 948.1,1470.0 951.2,1474.2 C955.7,1480.3 963.4,1485.5 970.7,1488.8 C988.9,1496.9 1008.3,1503.4 1027.7,1508.3 C1049.0,1513.7 1071.0,1517.0 1092.8,1519.7 C1119.8,1523.0 1147.0,1524.4 1174.1,1526.2 C1179.5,1526.6 1185.1,1527.1 1190.4,1526.2 C1194.9,1525.5 1199.8,1524.0 1203.4,1521.4 C1207.9,1518.1 1211.5,1513.1 1214.8,1508.3 C1226.7,1490.8 1237.6,1472.5 1249.0,1454.6 " stroke-width="5.6"/>
<path d="M893.0,1790.0 C893.0,1793.3 891.8,1797.2 893.0,1800.0 C894.1,1802.6 897.4,1804.4 900.0,1806.0 C902.4,1807.4 905.3,1809.0 908.0,1809.0 C911.0,1809.0 914.5,1807.7 917.0,1806.0 C919.0,1804.7 920.8,1802.2 921.8,1800.0 C922.4,1798.6 921.8,1796.7 921.8,1795.0 " stroke-width="5.0"/>
<path d="M969.0,1810.0 L969.0,1855.0 L973.0,1860.0 L980.5,1858.8 L1130.5,1900.0 L1135.5,1903.8 L1143.0,1902.5 L1143.0,1852.5 " stroke-width="5.0"/>
<path d="M981.8,1815.0 L981.8,1845.0 L1129.2,1885.0 L1129.2,1850.0 " stroke-width="4.0"/>
<path d="M185.0,1620.0 L185.0,1645.0 L190.0,1647.5 L247.5,1662.5 L252.5,1660.0 L252.5,1632.5 " stroke-width="4.0"/>
<path d="M315.0,1650.0 L320.0,1660.0 L337.5,1657.5 L337.5,1652.5 " stroke-width="4.0"/>
<path d="M1865.0,1002.5 C1860.0,1000.4 1855.2,997.2 1850.0,996.2 C1841.9,994.7 1833.3,994.7 1825.0,995.0 C1720.8,998.9 1616.5,1002.7 1512.5,1008.8 C1501.5,1009.4 1488.8,1010.1 1480.0,1015.0 C1474.6,1018.0 1471.4,1026.1 1470.0,1032.5 C1467.7,1042.8 1467.7,1054.4 1468.8,1065.0 C1469.4,1071.1 1473.4,1076.6 1475.0,1082.5 C1476.1,1086.6 1477.1,1090.8 1477.0,1095.0 C1476.8,1106.6 1474.3,1118.3 1474.0,1130.0 C1473.2,1163.3 1472.9,1196.7 1473.8,1230.0 C1474.1,1242.5 1475.1,1255.2 1477.5,1267.5 C1479.7,1278.6 1481.9,1290.6 1487.5,1300.0 C1491.9,1307.3 1499.4,1314.2 1507.5,1317.5 C1531.9,1327.5 1559.2,1332.5 1585.0,1340.0 L1972.0,1466.0 C1983.0,1472.1 1993.4,1479.5 2005.0,1484.4 C2031.9,1495.8 2059.6,1506.3 2087.5,1515.0 C2106.2,1520.8 2125.8,1524.1 2145.0,1528.0 C2150.6,1529.1 2156.5,1530.8 2162.0,1530.0 C2170.2,1528.8 2179.1,1526.5 2186.0,1522.0 C2197.0,1514.9 2205.9,1504.2 2215.8,1495.3 C2237.2,1476.2 2258.7,1457.2 2280.0,1438.0 C2301.7,1418.4 2323.3,1398.6 2345.0,1379.0 C2353.9,1370.9 2363.9,1363.9 2372.0,1355.0 C2381.9,1344.1 2390.8,1331.9 2399.0,1319.6 C2404.7,1311.0 2410.5,1301.9 2413.7,1292.2 C2418.2,1278.7 2421.0,1264.2 2422.2,1250.0 C2423.4,1235.1 2421.0,1220.0 2421.0,1205.0 C2421.0,1181.0 2422.6,1157.0 2422.4,1133.0 C2422.3,1123.9 2422.7,1114.2 2420.2,1105.9 C2418.9,1101.4 2414.1,1098.4 2411.1,1094.6 C2415.6,1089.3 2422.3,1085.0 2424.7,1078.8 C2427.6,1071.4 2427.7,1062.0 2426.9,1053.9 C2426.2,1046.2 2424.2,1037.7 2420.2,1031.3 C2416.3,1025.1 2410.1,1017.8 2403.0,1016.0 C2387.7,1012.0 2369.7,1013.5 2353.0,1013.8 C2336.3,1014.0 2319.6,1015.6 2303.0,1017.5 C2286.3,1019.4 2269.7,1022.5 2253.0,1025.0 C2253.0,1024.2 2253.4,1023.2 2253.0,1022.5 C2250.9,1018.2 2249.1,1012.9 2245.5,1010.0 C2240.8,1006.2 2234.1,1004.3 2228.0,1002.5 C2219.9,1000.1 2211.3,999.2 2203.0,997.5 C2205.5,986.7 2208.5,975.9 2210.5,965.0 C2213.5,948.4 2216.1,931.7 2218.0,915.0 C2219.5,901.7 2221.1,888.2 2220.5,875.0 C2220.2,868.2 2219.0,860.2 2215.5,855.0 C2213.1,851.5 2207.6,848.9 2203.0,848.8 C2178.4,847.7 2153.0,850.0 2128.0,851.2 C2086.2,853.3 2044.5,856.2 2002.8,858.8 C1968.5,860.8 1933.3,859.9 1900.0,865.0 C1892.4,866.2 1885.1,872.0 1880.0,877.5 C1875.9,882.0 1874.4,889.0 1872.5,895.0 C1867.8,909.8 1863.7,924.9 1860.0,940.0 C1857.0,952.4 1853.7,965.0 1852.5,977.5 C1852.0,982.5 1852.8,988.2 1855.0,992.5 C1857.0,996.5 1861.7,999.2 1865.0,1002.5 Z" stroke-width="7.5"/>
<path d="M1867.0,1002.4 C1912.3,1003.7 1957.7,1004.8 2003.0,1006.2 C2061.3,1008.1 2119.7,1011.1 2178.0,1012.5 C2186.3,1012.7 2194.7,1011.5 2203.0,1011.0 " stroke-width="5.6"/>
<path d="M1862.9,1007.0 C1856.9,1009.6 1849.1,1010.5 1844.8,1014.9 C1840.0,1019.9 1838.0,1028.2 1835.8,1035.2 C1833.1,1044.0 1831.3,1053.2 1830.1,1062.3 C1829.1,1069.8 1829.4,1077.4 1829.0,1085.0 " stroke-width="5.6"/>
<path d="M1482.5,1086.2 C1515.0,1085.8 1547.5,1086.4 1580.0,1085.0 C1611.0,1083.7 1642.1,1081.2 1673.0,1078.2 C1725.1,1073.2 1777.0,1066.9 1829.0,1061.2 " stroke-width="5.6"/>
<path d="M1482.5,1092.5 C1509.2,1093.3 1536.9,1091.1 1562.5,1095.0 C1569.4,1096.1 1576.3,1102.0 1580.0,1107.5 C1583.0,1112.0 1582.3,1119.1 1582.5,1125.0 C1583.1,1140.0 1582.6,1155.0 1582.6,1170.0 " stroke-width="5.6"/>
<path d="M1584.9,1139.2 C1599.2,1131.7 1612.4,1120.9 1627.8,1116.6 C1664.3,1106.5 1703.0,1102.3 1740.8,1096.2 C1763.3,1092.5 1785.9,1088.3 1808.6,1087.2 C1834.1,1086.0 1859.9,1088.1 1885.5,1089.5 C1894.6,1090.0 1903.6,1091.7 1912.6,1092.8 " stroke-width="5.6"/>
<path d="M1607.5,1125.6 C1601.5,1131.6 1593.4,1136.5 1589.4,1143.7 C1585.1,1151.6 1583.4,1161.6 1582.6,1170.8 C1581.1,1188.7 1580.4,1208.1 1582.5,1225.0 C1582.9,1227.8 1587.1,1229.3 1590.0,1230.0 C1717.1,1260.1 1845.0,1288.3 1972.5,1317.5 " stroke-width="5.6"/>
<path d="M2253.0,1025.0 C2231.1,1027.9 2209.2,1030.9 2187.3,1033.6 C2161.0,1036.8 2134.5,1039.0 2108.2,1042.6 C2085.5,1045.7 2062.8,1049.0 2040.4,1053.9 C2021.3,1058.1 2000.8,1061.5 1983.9,1069.7 C1977.4,1072.8 1972.4,1081.0 1970.3,1087.8 C1968.2,1094.6 1969.2,1103.5 1971.5,1110.4 C1973.7,1117.1 1977.9,1124.8 1983.9,1128.5 C1997.1,1136.8 2013.5,1142.3 2029.1,1146.6 C2054.9,1153.6 2081.8,1157.5 2108.2,1162.4 C2130.7,1166.6 2153.4,1170.3 2176.0,1173.7 C2183.5,1174.8 2191.1,1176.4 2198.6,1176.0 C2206.2,1175.6 2214.0,1174.1 2221.2,1171.4 C2244.2,1162.8 2266.1,1151.2 2289.0,1142.1 C2326.4,1127.1 2364.7,1113.9 2402.1,1099.1 C2404.3,1098.2 2406.0,1096.4 2408.0,1095.0 " stroke-width="5.6"/>
<path d="M2015.6,1143.2 C2005.8,1148.8 1994.9,1153.2 1986.2,1160.1 C1982.0,1163.4 1977.8,1168.4 1977.1,1173.7 C1974.1,1195.1 1975.1,1217.9 1975.0,1240.0 C1974.8,1311.7 1973.9,1383.9 1976.2,1455.0 C1976.4,1458.9 1980.4,1461.7 1982.5,1465.0 " stroke-width="5.6"/>
<path d="M1506.2,1325.0 L1506.2,1355.0 L1511.2,1358.8 L1580.0,1380.0 L1585.0,1385.0 L1591.2,1382.5 L1591.2,1347.5 " stroke-width="4.0"/>
<path d="M1606.2,1355.0 C1606.2,1359.3 1604.9,1364.3 1606.2,1368.0 C1607.2,1370.6 1610.5,1372.5 1613.0,1374.0 C1615.4,1375.5 1618.3,1377.0 1621.0,1377.0 C1624.0,1377.0 1627.4,1375.6 1630.0,1374.0 C1632.1,1372.6 1634.0,1370.2 1635.0,1368.0 C1635.7,1366.4 1635.0,1364.3 1635.0,1362.5 " stroke-width="5.0"/>
<path d="M1993.0,1482.6 L1993.0,1530.0 L2000.0,1535.3 L2142.0,1582.6 L2147.4,1589.6 L2159.6,1589.6 L2161.4,1533.5 " stroke-width="5.0"/>
<path d="M2005.3,1486.0 L2005.3,1521.2 L2142.0,1568.6 L2142.0,1537.0 " stroke-width="4.0"/>
<path d="M2370.0,1354.6 L2384.0,1347.5 L2387.7,1333.5 L2394.7,1330.0 L2394.7,1358.0 L2387.7,1361.6 " stroke-width="4.0"/>
<path d="M1515.0,1327.5 L1515.0,1347.5 L1580.0,1367.5 L1580.0,1345.0 " stroke-width="1.8"/>
</g>
<g fill="none" stroke="#000">
<path d="M173.8,207.0 L173.8,371.0" stroke-width="1.8"/>
<path d="M493.8,199.0 L493.8,254.0" stroke-width="1.8"/>
<path d="M1448.2,155.0 L1448.2,403.8" stroke-width="1.8"/>
<path d="M1242.5,225.8 L1572.5,225.8" stroke-width="1.8"/>
<path d="M1407.5,370.5 L1496.2,372.0" stroke-width="1.8"/>
<path d="M1416.2,677.5 L1575.0,695.0" stroke-width="1.8"/>
<path d="M248.8,603.8 L286.2,612.5" stroke-width="1.8"/>
<path d="M153.8,1200.0 L153.8,1395.0" stroke-width="1.8"/>
<path d="M453.8,1190.0 L453.8,1355.0" stroke-width="1.8"/>
<path d="M1267.0,1153.8 L1267.0,1410.0" stroke-width="1.8"/>
<path d="M1053.8,1230.8 L1378.8,1230.8" stroke-width="1.8"/>
<path d="M1228.8,1376.2 L1310.0,1378.0" stroke-width="1.8"/>
<path d="M1237.5,1701.2 L1378.8,1716.2" stroke-width="1.8"/>
<path d="M247.5,1662.5 L277.5,1671.2" stroke-width="1.8"/>
<path d="M1468.8,815.0 L1468.8,1036.2" stroke-width="1.8"/>
<path d="M1827.5,806.0 L1827.5,995.0" stroke-width="1.8"/>
<path d="M2428.0,785.0 L2428.0,1042.5" stroke-width="1.8"/>
<path d="M2205.5,848.8 L2562.0,833.8" stroke-width="1.8"/>
<path d="M2398.0,1013.5 L2474.8,1013.5" stroke-width="1.8"/>
<path d="M2387.7,1361.6 L2563.0,1370.0" stroke-width="1.8"/>
<path d="M1963.8,1525.0 L2000.0,1537.0" stroke-width="1.8"/>
</g>
<g fill="none" stroke="#e31e27" stroke-linecap="butt">
<path d="M173.0,204.5 L494.0,196.0 L1448.2,155.0" stroke-width="7.6"/>
<path d="M1575.0,225.8 L1575.0,695.0" stroke-width="7.6"/>
<path d="M1498.8,372.0 L1498.8,686.0" stroke-width="7.6"/>
<path d="M998.0,236.0 L963.0,440.0 L755.5,476.0" stroke-width="7.6"/>
<path d="M266.2,427.5 L755.5,476.0 L1156.5,520.5" stroke-width="7.6"/>
<path d="M759.5,476.0 L759.5,712.5" stroke-width="7.6"/>
<path d="M1229.5,498.8 L1229.5,782.0" stroke-width="7.6"/>
<path d="M1152.5,445.5 L1398.8,462.5" stroke-width="7.6"/>
<path d="M1236.2,288.8 L1255.0,292.5" stroke-width="7.6"/>
<path d="M587.5,252.5 L562.5,351.2" stroke-width="7.6"/>
<path d="M176.2,478.8 L242.5,490.0" stroke-width="7.6"/>
<path d="M287.0,586.2 L287.0,613.8" stroke-width="7.6"/>
<path d="M153.0,1197.5 L453.8,1188.0 L1267.0,1153.8" stroke-width="7.6"/>
<path d="M1378.8,1230.8 L1378.8,1716.2" stroke-width="7.6"/>
<path d="M1310.8,1378.0 L1310.8,1708.8" stroke-width="7.6"/>
<path d="M836.8,1240.0 L805.5,1453.8 L627.5,1500.0" stroke-width="7.6"/>
<path d="M270.0,1455.0 L627.5,1500.0 L953.0,1535.0" stroke-width="7.6"/>
<path d="M626.2,1500.0 L626.2,1762.5" stroke-width="7.6"/>
<path d="M1096.5,1523.8 L1096.5,1840.0" stroke-width="7.6"/>
<path d="M949.0,1460.0 L1207.5,1476.2" stroke-width="7.6"/>
<path d="M1006.8,1233.8 L991.8,1375.0" stroke-width="7.6"/>
<path d="M1048.0,1305.0 L1064.2,1307.5" stroke-width="7.6"/>
<path d="M157.5,1506.2 L240.0,1517.5" stroke-width="7.6"/>
<path d="M278.8,1640.0 L278.8,1671.2" stroke-width="7.6"/>
<path d="M1468.8,812.5 L1827.5,806.0 L2428.0,785.0" stroke-width="7.6"/>
<path d="M2562.0,833.8 L2562.0,1369.0" stroke-width="7.6"/>
<path d="M2474.8,1013.2 L2474.8,1365.5" stroke-width="7.6"/>
<path d="M1961.2,862.5 L1910.0,1092.0 L1711.4,1140.3" stroke-width="7.6"/>
<path d="M1609.7,1125.6 L1711.4,1140.3 L1975.9,1180.0" stroke-width="7.6"/>
<path d="M1711.2,1141.0 L1711.2,1420.0" stroke-width="7.6"/>
<path d="M2087.5,1167.5 L2087.5,1512.5" stroke-width="7.6"/>
<path d="M1969.1,1096.5 L2218.0,1120.0" stroke-width="7.6"/>
<path d="M2135.5,851.2 L2108.0,1010.0" stroke-width="7.6"/>
<path d="M2183.0,925.0 L2214.2,933.8" stroke-width="7.6"/>
<path d="M1473.8,1230.0 L1581.2,1258.8" stroke-width="7.6"/>
<path d="M1963.5,1470.0 L1963.5,1525.0" stroke-width="7.6"/>
</g>
<g fill="#000" font-family="Liberation Sans, sans-serif">
<g transform="translate(335.4,174.2) rotate(-1.50)">
<text x="-97.7" y="21.4" font-size="65.1" font-weight="bold" textLength="100.2" lengthAdjust="spacingAndGlyphs">102</text>
<text x="2.5" y="21.4" font-size="62" textLength="96.2" lengthAdjust="spacingAndGlyphs" stroke="#fff" stroke-width="1.3">cm</text>
</g>
<g transform="translate(961.4,146.6) rotate(-2.10)">
<text x="-98.8" y="21.4" font-size="65.1" font-weight="bold" textLength="103.2" lengthAdjust="spacingAndGlyphs">263</text>
<text x="4.5" y="21.4" font-size="62" textLength="95.3" lengthAdjust="spacingAndGlyphs" stroke="#fff" stroke-width="1.3">cm</text>
</g>
<g transform="translate(541.3,301.3) rotate(-77.00)">
<text x="-81.6" y="21.4" font-size="65.1" font-weight="bold" textLength="76.6" lengthAdjust="spacingAndGlyphs">30</text>
<text x="-5.0" y="21.4" font-size="62" textLength="87.6" lengthAdjust="spacingAndGlyphs" stroke="#fff" stroke-width="1.3">cm</text>
</g>
<g transform="translate(650.0,436.0) rotate(5.00)">
<text x="-93.5" y="21.4" font-size="65.1" font-weight="bold" textLength="93.0" lengthAdjust="spacingAndGlyphs">192</text>
<text x="-0.5" y="21.4" font-size="62" textLength="95.0" lengthAdjust="spacingAndGlyphs" stroke="#fff" stroke-width="1.3">cm</text>
</g>
<g transform="translate(848.0,430.0) rotate(-10.00)">
<text x="-81.5" y="21.4" font-size="65.1" font-weight="bold" textLength="67.0" lengthAdjust="spacingAndGlyphs">58</text>
<text x="-14.5" y="21.4" font-size="62" textLength="97.0" lengthAdjust="spacingAndGlyphs" stroke="#fff" stroke-width="1.3">cm</text>
</g>
<g transform="translate(952.0,318.0) rotate(-80.00)">
<text x="-81.5" y="21.4" font-size="65.1" font-weight="bold" textLength="69.0" lengthAdjust="spacingAndGlyphs">50</text>
<text x="-12.5" y="21.4" font-size="62" textLength="95.0" lengthAdjust="spacingAndGlyphs" stroke="#fff" stroke-width="1.3">cm</text>
</g>
<g transform="translate(1292.8,269.4) rotate(10.00)">
<text x="-77.9" y="21.4" font-size="65.1" font-weight="bold" textLength="57.4" lengthAdjust="spacingAndGlyphs">12</text>
<text x="-20.5" y="21.4" font-size="62" textLength="99.4" lengthAdjust="spacingAndGlyphs" stroke="#fff" stroke-width="1.3">cm</text>
</g>
<g transform="translate(1288.9,425.8) rotate(3.00)">
<text x="-82.0" y="21.4" font-size="65.1" font-weight="bold" textLength="69.5" lengthAdjust="spacingAndGlyphs">35</text>
<text x="-12.5" y="21.4" font-size="62" textLength="95.5" lengthAdjust="spacingAndGlyphs" stroke="#fff" stroke-width="1.3">cm</text>
</g>
<g transform="translate(1606.6,464.3) rotate(90.00)">
<text x="-127.1" y="21.4" font-size="65.1" font-weight="bold" textLength="164.1" lengthAdjust="spacingAndGlyphs">70-90</text>
<text x="37.0" y="21.4" font-size="62" textLength="91.1" lengthAdjust="spacingAndGlyphs" stroke="#fff" stroke-width="1.3">cm</text>
</g>
<g transform="translate(1530.9,526.4) rotate(90.00)">
<text x="-81.0" y="21.4" font-size="65.1" font-weight="bold" textLength="70.0" lengthAdjust="spacingAndGlyphs">60</text>
<text x="-11.0" y="21.4" font-size="62" textLength="93.0" lengthAdjust="spacingAndGlyphs" stroke="#fff" stroke-width="1.3">cm</text>
</g>
<g transform="translate(249.3,461.7) rotate(8.00)">
<text x="-81.6" y="21.4" font-size="65.1" font-weight="bold" textLength="67.1" lengthAdjust="spacingAndGlyphs">32</text>
<text x="-14.5" y="21.4" font-size="62" textLength="97.1" lengthAdjust="spacingAndGlyphs" stroke="#fff" stroke-width="1.3">cm</text>
</g>
<g transform="translate(318.1,612.0) rotate(90.00)">
<text x="-63.0" y="21.4" font-size="65.1" font-weight="bold" textLength="32.0" lengthAdjust="spacingAndGlyphs">9</text>
<text x="-31.0" y="21.4" font-size="62" textLength="95.0" lengthAdjust="spacingAndGlyphs" stroke="#fff" stroke-width="1.3">cm</text>
</g>
<g transform="translate(790.2,582.8) rotate(90.00)">
<text x="-81.6" y="21.4" font-size="65.1" font-weight="bold" textLength="69.6" lengthAdjust="spacingAndGlyphs">44</text>
<text x="-12.0" y="21.4" font-size="62" textLength="94.6" lengthAdjust="spacingAndGlyphs" stroke="#fff" stroke-width="1.3">cm</text>
</g>
<g transform="translate(1197.6,633.5) rotate(-90.00)">
<text x="-82.6" y="21.4" font-size="65.1" font-weight="bold" textLength="70.6" lengthAdjust="spacingAndGlyphs">39</text>
<text x="-12.0" y="21.4" font-size="62" textLength="95.6" lengthAdjust="spacingAndGlyphs" stroke="#fff" stroke-width="1.3">cm</text>
</g>
<g transform="translate(310.4,1165.6) rotate(-1.80)">
<text x="-97.7" y="21.4" font-size="65.1" font-weight="bold" textLength="100.2" lengthAdjust="spacingAndGlyphs">102</text>
<text x="2.5" y="21.4" font-size="62" textLength="96.2" lengthAdjust="spacingAndGlyphs" stroke="#fff" stroke-width="1.3">cm</text>
</g>
<g transform="translate(868.3,1144.0) rotate(-2.50)">
<text x="-97.6" y="21.4" font-size="65.1" font-weight="bold" textLength="100.1" lengthAdjust="spacingAndGlyphs">198</text>
<text x="2.5" y="21.4" font-size="62" textLength="96.1" lengthAdjust="spacingAndGlyphs" stroke="#fff" stroke-width="1.3">cm</text>
</g>
<g transform="translate(798.4,1303.8) rotate(-85.00)">
<text x="-81.0" y="21.4" font-size="65.1" font-weight="bold" textLength="69.0" lengthAdjust="spacingAndGlyphs">50</text>
<text x="-12.0" y="21.4" font-size="62" textLength="94.0" lengthAdjust="spacingAndGlyphs" stroke="#fff" stroke-width="1.3">cm</text>
</g>
<g transform="translate(970.2,1295.0) rotate(-87.00)">
<text x="-82.0" y="21.4" font-size="65.1" font-weight="bold" textLength="70.0" lengthAdjust="spacingAndGlyphs">30</text>
<text x="-12.0" y="21.4" font-size="62" textLength="95.0" lengthAdjust="spacingAndGlyphs" stroke="#fff" stroke-width="1.3">cm</text>
</g>
<g transform="translate(1107.7,1284.6) rotate(10.00)">
<text x="-77.2" y="21.4" font-size="65.1" font-weight="bold" textLength="56.7" lengthAdjust="spacingAndGlyphs">12</text>
<text x="-20.5" y="21.4" font-size="62" textLength="98.7" lengthAdjust="spacingAndGlyphs" stroke="#fff" stroke-width="1.3">cm</text>
</g>
<g transform="translate(1100.0,1443.8) rotate(3.00)">
<text x="-82.7" y="21.4" font-size="65.1" font-weight="bold" textLength="70.2" lengthAdjust="spacingAndGlyphs">35</text>
<text x="-12.5" y="21.4" font-size="62" textLength="96.2" lengthAdjust="spacingAndGlyphs" stroke="#fff" stroke-width="1.3">cm</text>
</g>
<g transform="translate(509.1,1454.6) rotate(7.00)">
<text x="-93.7" y="21.4" font-size="65.1" font-weight="bold" textLength="94.2" lengthAdjust="spacingAndGlyphs">128</text>
<text x="0.5" y="21.4" font-size="62" textLength="94.2" lengthAdjust="spacingAndGlyphs" stroke="#fff" stroke-width="1.3">cm</text>
</g>
<g transform="translate(710.0,1446.0) rotate(-13.00)">
<text x="-81.5" y="21.4" font-size="65.1" font-weight="bold" textLength="67.0" lengthAdjust="spacingAndGlyphs">58</text>
<text x="-14.5" y="21.4" font-size="62" textLength="97.0" lengthAdjust="spacingAndGlyphs" stroke="#fff" stroke-width="1.3">cm</text>
</g>
<g transform="translate(235.0,1485.0) rotate(8.00)">
<text x="-80.0" y="21.4" font-size="65.1" font-weight="bold" textLength="67.0" lengthAdjust="spacingAndGlyphs">32</text>
<text x="-13.0" y="21.4" font-size="62" textLength="94.0" lengthAdjust="spacingAndGlyphs" stroke="#fff" stroke-width="1.3">cm</text>
</g>
<g transform="translate(308.1,1658.3) rotate(90.00)">
<text x="-63.0" y="21.4" font-size="65.1" font-weight="bold" textLength="32.0" lengthAdjust="spacingAndGlyphs">9</text>
<text x="-31.0" y="21.4" font-size="62" textLength="95.0" lengthAdjust="spacingAndGlyphs" stroke="#fff" stroke-width="1.3">cm</text>
</g>
<g transform="translate(655.3,1630.8) rotate(90.00)">
<text x="-82.0" y="21.4" font-size="65.1" font-weight="bold" textLength="70.0" lengthAdjust="spacingAndGlyphs">44</text>
<text x="-12.0" y="21.4" font-size="62" textLength="95.0" lengthAdjust="spacingAndGlyphs" stroke="#fff" stroke-width="1.3">cm</text>
</g>
<g transform="translate(1066.6,1682.9) rotate(-90.00)">
<text x="-82.0" y="21.4" font-size="65.1" font-weight="bold" textLength="70.0" lengthAdjust="spacingAndGlyphs">39</text>
<text x="-12.0" y="21.4" font-size="62" textLength="95.0" lengthAdjust="spacingAndGlyphs" stroke="#fff" stroke-width="1.3">cm</text>
</g>
<g transform="translate(1341.1,1548.7) rotate(90.00)">
<text x="-81.2" y="21.4" font-size="65.1" font-weight="bold" textLength="70.2" lengthAdjust="spacingAndGlyphs">60</text>
<text x="-11.0" y="21.4" font-size="62" textLength="93.2" lengthAdjust="spacingAndGlyphs" stroke="#fff" stroke-width="1.3">cm</text>
</g>
<g transform="translate(1410.0,1471.0) rotate(90.00)">
<text x="-126.0" y="21.4" font-size="65.1" font-weight="bold" textLength="163.0" lengthAdjust="spacingAndGlyphs">70-90</text>
<text x="37.0" y="21.4" font-size="62" textLength="90.0" lengthAdjust="spacingAndGlyphs" stroke="#fff" stroke-width="1.3">cm</text>
</g>
<g transform="translate(1694.6,781.5) rotate(-1.30)">
<text x="-97.9" y="21.4" font-size="65.1" font-weight="bold" textLength="100.4" lengthAdjust="spacingAndGlyphs">102</text>
<text x="2.5" y="21.4" font-size="62" textLength="96.4" lengthAdjust="spacingAndGlyphs" stroke="#fff" stroke-width="1.3">cm</text>
</g>
<g transform="translate(2174.6,766.9) rotate(-2.00)">
<text x="-97.5" y="21.4" font-size="65.1" font-weight="bold" textLength="101.0" lengthAdjust="spacingAndGlyphs">134</text>
<text x="3.5" y="21.4" font-size="62" textLength="95.0" lengthAdjust="spacingAndGlyphs" stroke="#fff" stroke-width="1.3">cm</text>
</g>
<g transform="translate(1911.7,948.8) rotate(-77.00)">
<text x="-81.8" y="21.4" font-size="65.1" font-weight="bold" textLength="69.8" lengthAdjust="spacingAndGlyphs">50</text>
<text x="-12.0" y="21.4" font-size="62" textLength="94.8" lengthAdjust="spacingAndGlyphs" stroke="#fff" stroke-width="1.3">cm</text>
</g>
<g transform="translate(2088.0,920.0) rotate(-80.00)">
<text x="-82.0" y="21.4" font-size="65.1" font-weight="bold" textLength="70.0" lengthAdjust="spacingAndGlyphs">30</text>
<text x="-12.0" y="21.4" font-size="62" textLength="95.0" lengthAdjust="spacingAndGlyphs" stroke="#fff" stroke-width="1.3">cm</text>
</g>
<g transform="translate(2250.0,915.8) rotate(14.00)">
<text x="-77.3" y="21.4" font-size="65.1" font-weight="bold" textLength="56.8" lengthAdjust="spacingAndGlyphs">12</text>
<text x="-20.5" y="21.4" font-size="62" textLength="98.8" lengthAdjust="spacingAndGlyphs" stroke="#fff" stroke-width="1.3">cm</text>
</g>
<g transform="translate(2110.8,1080.4) rotate(5.00)">
<text x="-82.1" y="21.4" font-size="65.1" font-weight="bold" textLength="69.6" lengthAdjust="spacingAndGlyphs">35</text>
<text x="-12.5" y="21.4" font-size="62" textLength="95.6" lengthAdjust="spacingAndGlyphs" stroke="#fff" stroke-width="1.3">cm</text>
</g>
<g transform="translate(1809.0,1089.0) rotate(-12.50)">
<text x="-81.5" y="21.4" font-size="65.1" font-weight="bold" textLength="67.0" lengthAdjust="spacingAndGlyphs">58</text>
<text x="-14.5" y="21.4" font-size="62" textLength="97.0" lengthAdjust="spacingAndGlyphs" stroke="#fff" stroke-width="1.3">cm</text>
</g>
<g transform="translate(1911.5,1141.0) rotate(8.00)">
<text x="-81.5" y="21.4" font-size="65.1" font-weight="bold" textLength="69.0" lengthAdjust="spacingAndGlyphs">64</text>
<text x="-12.5" y="21.4" font-size="62" textLength="95.0" lengthAdjust="spacingAndGlyphs" stroke="#fff" stroke-width="1.3">cm</text>
</g>
<g transform="translate(1548.6,1222.0) rotate(14.00)">
<text x="-80.2" y="21.4" font-size="65.1" font-weight="bold" textLength="67.2" lengthAdjust="spacingAndGlyphs">32</text>
<text x="-13.0" y="21.4" font-size="62" textLength="94.2" lengthAdjust="spacingAndGlyphs" stroke="#fff" stroke-width="1.3">cm</text>
</g>
<g transform="translate(1740.4,1278.2) rotate(90.00)">
<text x="-82.0" y="21.4" font-size="65.1" font-weight="bold" textLength="70.0" lengthAdjust="spacingAndGlyphs">44</text>
<text x="-12.0" y="21.4" font-size="62" textLength="95.0" lengthAdjust="spacingAndGlyphs" stroke="#fff" stroke-width="1.3">cm</text>
</g>
<g transform="translate(1935.8,1494.6) rotate(-90.00)">
<text x="-63.0" y="21.4" font-size="65.1" font-weight="bold" textLength="32.0" lengthAdjust="spacingAndGlyphs">9</text>
<text x="-31.0" y="21.4" font-size="62" textLength="95.0" lengthAdjust="spacingAndGlyphs" stroke="#fff" stroke-width="1.3">cm</text>
</g>
<g transform="translate(2117.1,1355.4) rotate(90.00)">
<text x="-82.4" y="21.4" font-size="65.1" font-weight="bold" textLength="70.4" lengthAdjust="spacingAndGlyphs">39</text>
<text x="-12.0" y="21.4" font-size="62" textLength="95.4" lengthAdjust="spacingAndGlyphs" stroke="#fff" stroke-width="1.3">cm</text>
</g>
<g transform="translate(2505.1,1190.1) rotate(90.00)">
<text x="-81.3" y="21.4" font-size="65.1" font-weight="bold" textLength="70.3" lengthAdjust="spacingAndGlyphs">60</text>
<text x="-11.0" y="21.4" font-size="62" textLength="93.3" lengthAdjust="spacingAndGlyphs" stroke="#fff" stroke-width="1.3">cm</text>
</g>
<g transform="translate(2592.1,1096.8) rotate(90.00)">
<text x="-127.3" y="21.4" font-size="65.1" font-weight="bold" textLength="164.3" lengthAdjust="spacingAndGlyphs">70-90</text>
<text x="37.0" y="21.4" font-size="62" textLength="91.3" lengthAdjust="spacingAndGlyphs" stroke="#fff" stroke-width="1.3">cm</text>
</g>
</g>
</svg></body></html>
